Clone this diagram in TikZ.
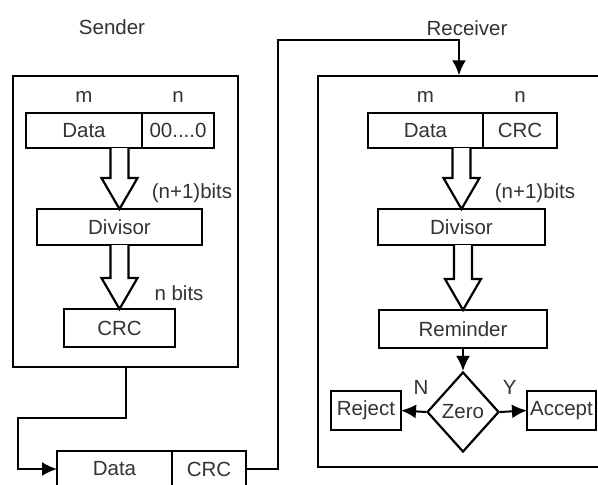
\documentclass[tikz,border=0pt]{standalone}
\usepackage{fontspec}
\setmainfont{Liberation Sans}
\usepackage{tikz}
\usetikzlibrary{arrows.meta}
\usetikzlibrary{calc}
\usetikzlibrary{positioning}
\usetikzlibrary{shapes.geometric}

% hollow block arrow from box #1 down to box #2
\newcommand{\hollowarrow}[2]{%
  \draw[fat] ($(#2.north |- #1.south)+(-9,0)$) -- ($(#2.north)+(-9,31)$)
    -- ++(-9,0) -- (#2.north) -- ++(18,31) -- ++(-9,0)
    -- ($(#2.north |- #1.south)+(9,0)$);
}

\begin{document}
\begin{tikzpicture}[x=1pt, y=1pt,
    font=\fontsize{20.5}{24}\selectfont, text=black!80,
    >={Latex[length=15pt,width=14pt]},
    cell/.style={draw, line width=2.2pt, inner sep=0pt, outer sep=0pt,
      minimum height=35pt},
    frame/.style={draw, line width=1.4pt, inner sep=0pt},
    tag/.style={inner sep=2pt},
    fat/.style={draw, line width=2.2pt, fill=white},
    wire/.style={->, line width=2pt}]

    \useasboundingbox (0,0) rectangle (598,-485);

    % sender
    \node[tag] (sendlbl) at (112,-27) {Sender};
    \node[frame, minimum width=225pt, minimum height=291pt] (sender) at (125.5,-221.5) {};
    \node[cell, minimum width=116pt] (sdata) at (84,-130.5) {Data};
    \node[cell, minimum width=72pt, right=0pt of sdata] (szeros) {00....0};
    \node[tag, above=8pt of sdata] (sm) {m};
    \node[tag, above=8pt of szeros] (sn) {n};
    \node[cell, minimum width=165pt, minimum height=36pt] (sdiv) at (119.5,-227) {Divisor};
    \node[cell, minimum width=111pt, minimum height=38pt] (scrc) at (119.5,-328) {CRC};
    \hollowarrow{sdata}{sdiv}
    \hollowarrow{sdiv}{scrc}
    \node[tag] (sbits) at (192,-193) {(n+1)bits};
    \node[tag] (snbits) at (179,-293) {n bits};

    % receiver
    \node[tag] (recvlbl) at (467,-28) {Receiver};
    \node[frame, minimum width=282pt, minimum height=391pt] (receiver) at (459,-271.5) {};
    \node[cell, minimum width=115pt] (rdata) at (425.5,-130.5) {Data};
    \node[cell, minimum width=74pt, right=0pt of rdata] (rcrc) {CRC};
    \node[tag, above=8pt of rdata] (rm) {m};
    \node[tag, above=8pt of rcrc] (rn) {n};
    \node[cell, minimum width=167pt, minimum height=36pt] (rdiv) at (461.5,-227) {Divisor};
    \node[cell, minimum width=168pt, minimum height=38pt] (rrem) at (463,-329) {Reminder};
    \hollowarrow{rdata}{rdiv}
    \hollowarrow{rdiv}{rrem}
    \node[tag] (rbits) at (535,-193) {(n+1)bits};
    \node[draw, diamond, line width=2.2pt, inner sep=1pt,
      minimum width=72pt, minimum height=80pt] (rzero) at (463,-412) {Zero};
    \node[cell, minimum width=70pt, minimum height=39pt] (rrej) at (366,-410.5) {Reject};
    \node[cell, minimum width=69pt, minimum height=39pt] (racc) at (561.5,-410.5) {Accept};
    \draw[wire] (rrem.south) -- (rzero.north);
    \draw[wire] (rzero.west) -- (rrej.east) node[tag, pos=0.2, above=14pt] (nlbl) {N};
    \draw[wire] (rzero.east) -- (racc.west) node[tag, pos=0.36, above=14pt] (ylbl) {Y};

    % transmitted frame
    \node[cell, minimum width=115pt, minimum height=36pt] (fdata) at (114.5,-469) {Data};
    \node[cell, minimum width=74pt, minimum height=36pt, right=0pt of fdata] (fcrc) {CRC};
    \coordinate (bendA) at (18,-418);
    \coordinate (bendB) at (278,-40);
    \draw[wire] (sender.south) |- (bendA) |- (fdata.west);
    \draw[wire] (fcrc.east) -| (bendB) -| (receiver.north);

\end{tikzpicture}
\end{document}
